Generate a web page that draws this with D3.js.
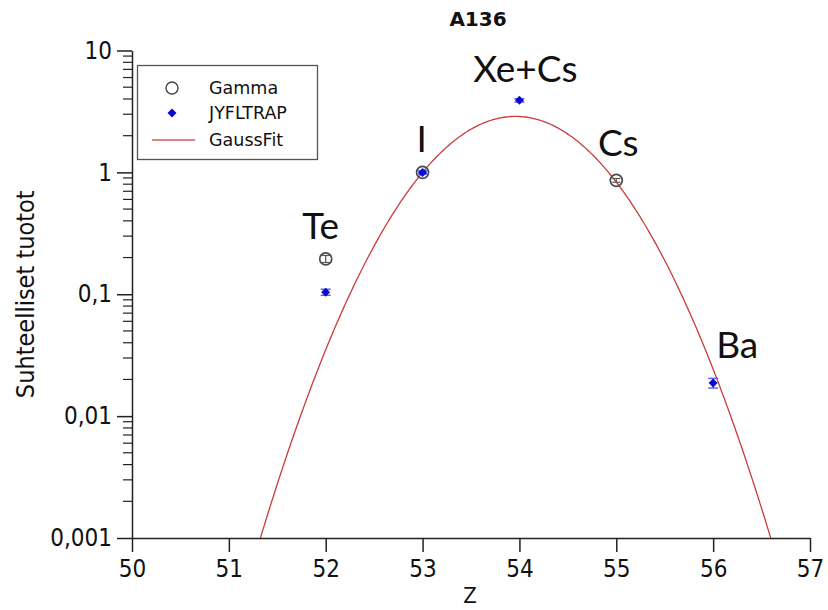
<!DOCTYPE html>
<html>
<head>
<meta charset="utf-8">
<script src="https://cdn.jsdelivr.net/npm/d3@7"></script>
<style>
  html, body { margin: 0; padding: 0; background: #fff; }
  svg { display: block; }
  .axis text { font-family: "DejaVu Sans Condensed", "DejaVu Sans", sans-serif; font-stretch: condensed; }
</style>
</head>
<body>
<svg id="chart" width="828" height="610"></svg>
<script>
// Relative yields for mass chain A = 136
const xTicks = [50, 51, 52, 53, 54, 55, 56, 57];
const yTicks = [0.001, 0.01, 0.1, 1, 10];

// Gamma-spectroscopy yields
const gammaZ = [52, 53, 55];
const gammaY = [0.195, 1.0, 0.86];
const gammaErr = [0.013, 0.03, 0.03];

// JYFLTRAP yields
const trapZ = [52, 53, 54, 56];
const trapY = [0.104, 1.0, 3.9, 0.0187];
const trapErr = [0.006, 0.03, 0.12, 0.0017];

// Element labels, tied to the measured point they annotate
const elemNames = ["Te", "I", "Xe+Cs", "Cs", "Ba"];
const elemZ = [52, 53, 54, 55, 56];
const elemY = [0.195, 1.0, 3.9, 0.86, 0.0187];

// Gaussian fit parameters: amplitude, centroid, width
const gaussA = 2.88;
const gaussMu = 53.96;
const gaussSigma = 0.66;

const svg = d3.select("#chart");
const plotLeft = 132, plotRight = 810, plotTop = 50.5, plotBottom = 538;

const x = d3.scaleLinear().domain([50, 57]).range([plotLeft, plotRight]);
const y = d3.scaleLog().domain([0.001, 10]).range([plotBottom, plotTop]);

const axisColor = "#222";
const fmt = v => String(v).replace(".", ",");

// Title
svg.append("text")
  .attr("x", 478).attr("y", 26)
  .attr("text-anchor", "middle")
  .style("font-family", "DejaVu Sans, sans-serif")
  .style("font-weight", "bold")
  .style("font-size", "20px")
  .attr("fill", "#111")
  .text("A136");

// Minor log ticks
const minor = [];
for (let e = -3; e < 1; e++) {
  for (let m = 2; m <= 9; m++) minor.push(m * Math.pow(10, e));
}
svg.append("g").selectAll("line").data(minor).join("line")
  .attr("x1", plotLeft - 9).attr("x2", plotLeft)
  .attr("y1", d => y(d)).attr("y2", d => y(d))
  .attr("stroke", axisColor).attr("stroke-width", 1.2);

// Y axis
const gy = svg.append("g").attr("class", "axis")
  .attr("transform", `translate(${plotLeft},0)`)
  .call(d3.axisLeft(y).tickValues(yTicks).tickFormat(fmt).tickSize(15).tickSizeOuter(0).tickPadding(5));
gy.selectAll("text").style("font-size", "24px").attr("fill", "#111");

// X axis
const gx = svg.append("g").attr("class", "axis")
  .attr("transform", `translate(0,${plotBottom})`)
  .call(d3.axisBottom(x).tickValues(xTicks).tickFormat(d3.format("d")).tickSize(14).tickSizeOuter(0).tickPadding(8));
gx.selectAll("text").style("font-size", "24px").attr("fill", "#111");

svg.selectAll(".axis path, .axis line").attr("stroke", axisColor).attr("stroke-width", 1.5);

// Axis titles
svg.append("text")
  .attr("transform", `translate(34,${(plotTop + plotBottom) / 2}) rotate(-90)`)
  .attr("text-anchor", "middle")
  .style("font-family", "DejaVu Sans Condensed, DejaVu Sans, sans-serif")
  .style("font-stretch", "condensed")
  .style("font-size", "25px")
  .attr("fill", "#111")
  .text("Suhteelliset tuotot");

svg.append("text")
  .attr("x", 470).attr("y", 603)
  .attr("text-anchor", "middle")
  .style("font-family", "DejaVu Sans Condensed, DejaVu Sans, sans-serif")
  .style("font-stretch", "condensed")
  .style("font-size", "22px")
  .attr("fill", "#111")
  .text("Z");

// Gaussian fit curve, clipped to the plot frame
svg.append("clipPath").attr("id", "plotClip")
  .append("rect").attr("x", plotLeft).attr("y", plotTop)
  .attr("width", plotRight - plotLeft).attr("height", plotBottom - plotTop);

const fitZ = d3.range(50, 57.0001, 0.02);
const gauss = z => gaussA * Math.exp(-((z - gaussMu) ** 2) / (2 * gaussSigma ** 2));
svg.append("path")
  .datum(fitZ)
  .attr("clip-path", "url(#plotClip)")
  .attr("fill", "none")
  .attr("stroke", "#cc3b3b")
  .attr("stroke-width", 1.3)
  .attr("d", d3.line().x(d => x(d)).y(d => y(Math.max(gauss(d), 1e-6))));

// Gamma points: open circles with error bars
const gammaData = gammaZ.map((z, i) => ({ z, v: gammaY[i], e: gammaErr[i] }));
const gG = svg.append("g");
gammaData.forEach(d => {
  const cx = x(d.z), y0 = y(d.v + d.e), y1 = y(d.v - d.e);
  gG.append("line").attr("x1", cx).attr("x2", cx).attr("y1", y0).attr("y2", y1)
    .attr("stroke", "#555").attr("stroke-width", 1.2);
  [y0, y1].forEach(yy => gG.append("line").attr("x1", cx - 4).attr("x2", cx + 4).attr("y1", yy).attr("y2", yy)
    .attr("stroke", "#555").attr("stroke-width", 1.2));
  gG.append("circle").attr("cx", cx).attr("cy", y(d.v)).attr("r", 6)
    .attr("fill", "none").attr("stroke", "#4a4a4a").attr("stroke-width", 1.7);
});

// JYFLTRAP points: blue diamonds with error bars
const trapData = trapZ.map((z, i) => ({ z, v: trapY[i], e: trapErr[i] }));
const gT = svg.append("g");
const diamond = (cx, cy, w, h) => `M${cx},${cy - h}L${cx + w},${cy}L${cx},${cy + h}L${cx - w},${cy}Z`;
trapData.forEach(d => {
  const cx = x(d.z), y0 = y(d.v + d.e), y1 = y(d.v - d.e);
  gT.append("line").attr("x1", cx).attr("x2", cx).attr("y1", y0).attr("y2", y1)
    .attr("stroke", "#5a5af0").attr("stroke-width", 1.4);
  [y0, y1].forEach(yy => gT.append("line").attr("x1", cx - 5).attr("x2", cx + 5).attr("y1", yy).attr("y2", yy)
    .attr("stroke", "#5a5af0").attr("stroke-width", 1.4));
  gT.append("path").attr("d", diamond(cx, y(d.v), 4.5, 4.5)).attr("fill", "#0a0ad0");
});

// Element labels
const labelOffset = { "Te": [-5, -20], "I": [-1, -20], "Xe+Cs": [6, -18], "Cs": [2, -24], "Ba": [24, -25] };
elemNames.forEach((name, i) => {
  const off = labelOffset[name];
  svg.append("text")
    .attr("x", x(elemZ[i]) + off[0]).attr("y", y(elemY[i]) + off[1])
    .attr("text-anchor", "middle")
    .style("font-family", "Lato, 'Open Sans', sans-serif")
    .style("font-size", "37px")
    .attr("fill", "#111")
    .text(name);
});

// Legend
const lg = svg.append("g");
lg.append("rect").attr("x", 137.5).attr("y", 65.5).attr("width", 180).attr("height", 94)
  .attr("fill", "#fff").attr("stroke", "#555").attr("stroke-width", 1.3);
const legendItems = ["Gamma", "JYFLTRAP", "GaussFit"];
const legendY = [88, 113, 140];
lg.append("circle").attr("cx", 172).attr("cy", legendY[0]).attr("r", 6)
  .attr("fill", "none").attr("stroke", "#444").attr("stroke-width", 1.4);
lg.append("path").attr("d", diamond(172, legendY[1], 4.5, 4.5)).attr("fill", "#0a0ad0");
lg.append("line").attr("x1", 152).attr("x2", 195).attr("y1", legendY[2]).attr("y2", legendY[2])
  .attr("stroke", "#d45a5a").attr("stroke-width", 1.4);
legendItems.forEach((t, i) => {
  lg.append("text").attr("x", 209).attr("y", legendY[i]).attr("dy", "0.36em")
    .style("font-family", "DejaVu Sans, sans-serif")
    .style("font-size", "17.5px")
    .attr("fill", "#111")
    .text(t);
});
</script>
</body>
</html>
